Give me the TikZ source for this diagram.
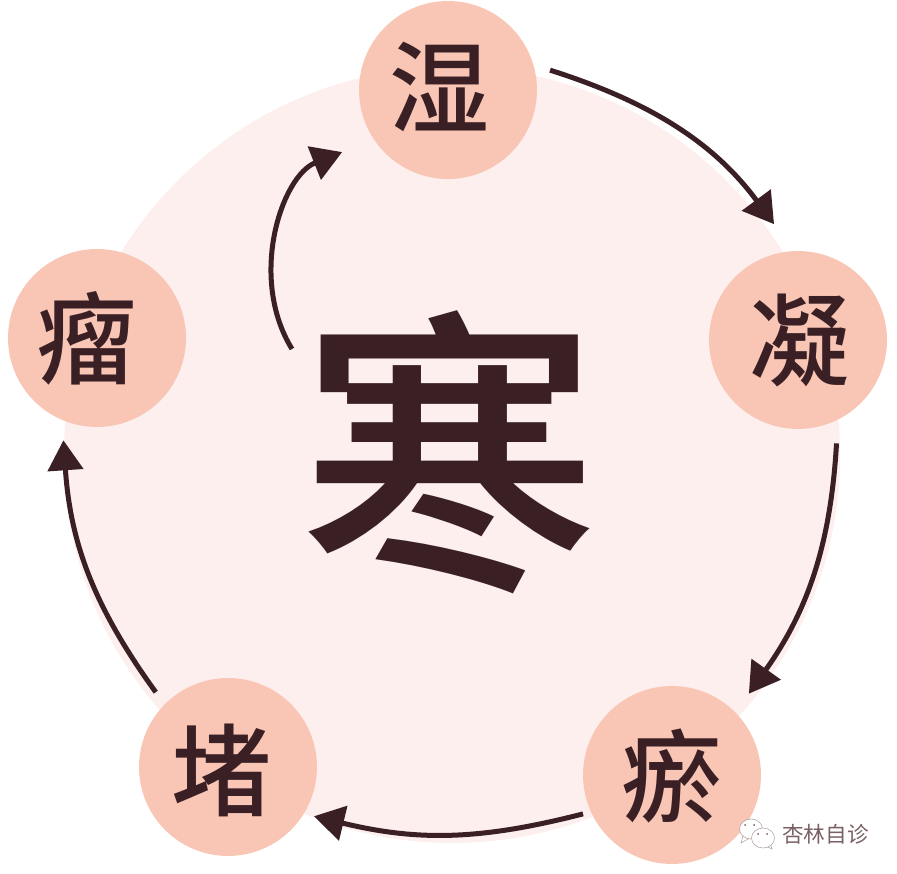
\documentclass[tikz,border=0pt]{standalone}
\usepackage{fontspec}
\setmainfont[BoldFont={Noto Sans CJK SC Medium}]{Noto Sans CJK SC}
\usetikzlibrary{arrows.meta,shapes.geometric}
\definecolor{palepink}{HTML}{FDEFED}
\definecolor{salmon}{HTML}{F9C6B6}
\definecolor{darkink}{HTML}{3A2025}
\definecolor{marktext}{HTML}{7A6063}

\begin{document}
\begin{tikzpicture}[x=0.02cm,y=-0.02cm,>={Triangle[length=0.6cm,width=0.7cm]},
  cause/.style={circle,fill=salmon,minimum size=3.56cm,inner sep=0pt,outer sep=0.3cm},
  causetext/.style={text=darkink,font=\fontsize{57}{60}\selectfont\bfseries,inner sep=0pt},
  flow/.style={->,line width=0.1cm,draw=darkink},
  bubble/.style={ellipse,draw=marktext!60,fill=white,line width=0.3pt,minimum width=0.46cm,minimum height=0.4cm,inner sep=0pt}]
\useasboundingbox (0,0) rectangle (897,874);

% background disc
\fill[palepink] (452,455) circle (0.02*388cm);

% causes
\node[cause] (shi) at (448,90) {};
\node[cause] (ning) at (798,340) {};
\node[cause] (yu) at (672,775) {};
\node[cause] (du) at (228,767) {};
\node[cause] (liu) at (97,338) {};

% labels
\node[causetext] (shitext) at (440,87) {湿};
\node[causetext] (ningtext) at (800,340) {凝};
\node[causetext] (yutext) at (672,776) {瘀};
\node[causetext] (dutext) at (222,770) {堵};
\node[causetext] (liutext) at (87,338) {瘤};

% centre
\node[text=darkink,font=\fontsize{171}{175}\selectfont\bfseries,inner sep=0pt] (han) at (450,452) {寒};
\coordinate (hanstart) at (292,349);

% cycle
\draw[flow,shorten >=0.32cm] (shi.11) to[bend left=18] (ning.98);
\draw[flow,shorten <=0.14cm,shorten >=0.16cm] (ning.-68) to[bend left=16] (yu.46);
\draw[flow,shorten <=-0.14cm,shorten >=-0.1cm] (yu.203) to[bend left=14] (du.-29);
\draw[flow,shorten >=0.08cm] (du.134) to[bend left=16] (liu.251);
\draw[flow,shorten >=0.38cm] (hanstart) to[bend left=50] (shi.212);

% mark
\fill[white,draw=marktext!60,line width=0.3pt] (743,836) -- (741,843) -- (750,838) -- cycle;
\node[bubble] (chat1) at (751,829) {};
\fill[white,draw=marktext!60,line width=0.3pt] (766,846) -- (772,849) -- (770,842) -- cycle;
\node[bubble] (chat2) at (763,838) {};
\foreach \eyex/\eyey in {745/825,754/825,758/834,767/834}
  \fill[marktext] (\eyex,\eyey) circle (0.02cm);
\node[text=marktext,font=\fontsize{12.3}{14}\selectfont,anchor=west,inner sep=0pt] (mark) at (782,834) {杏林自诊};
\end{tikzpicture}
\end{document}
